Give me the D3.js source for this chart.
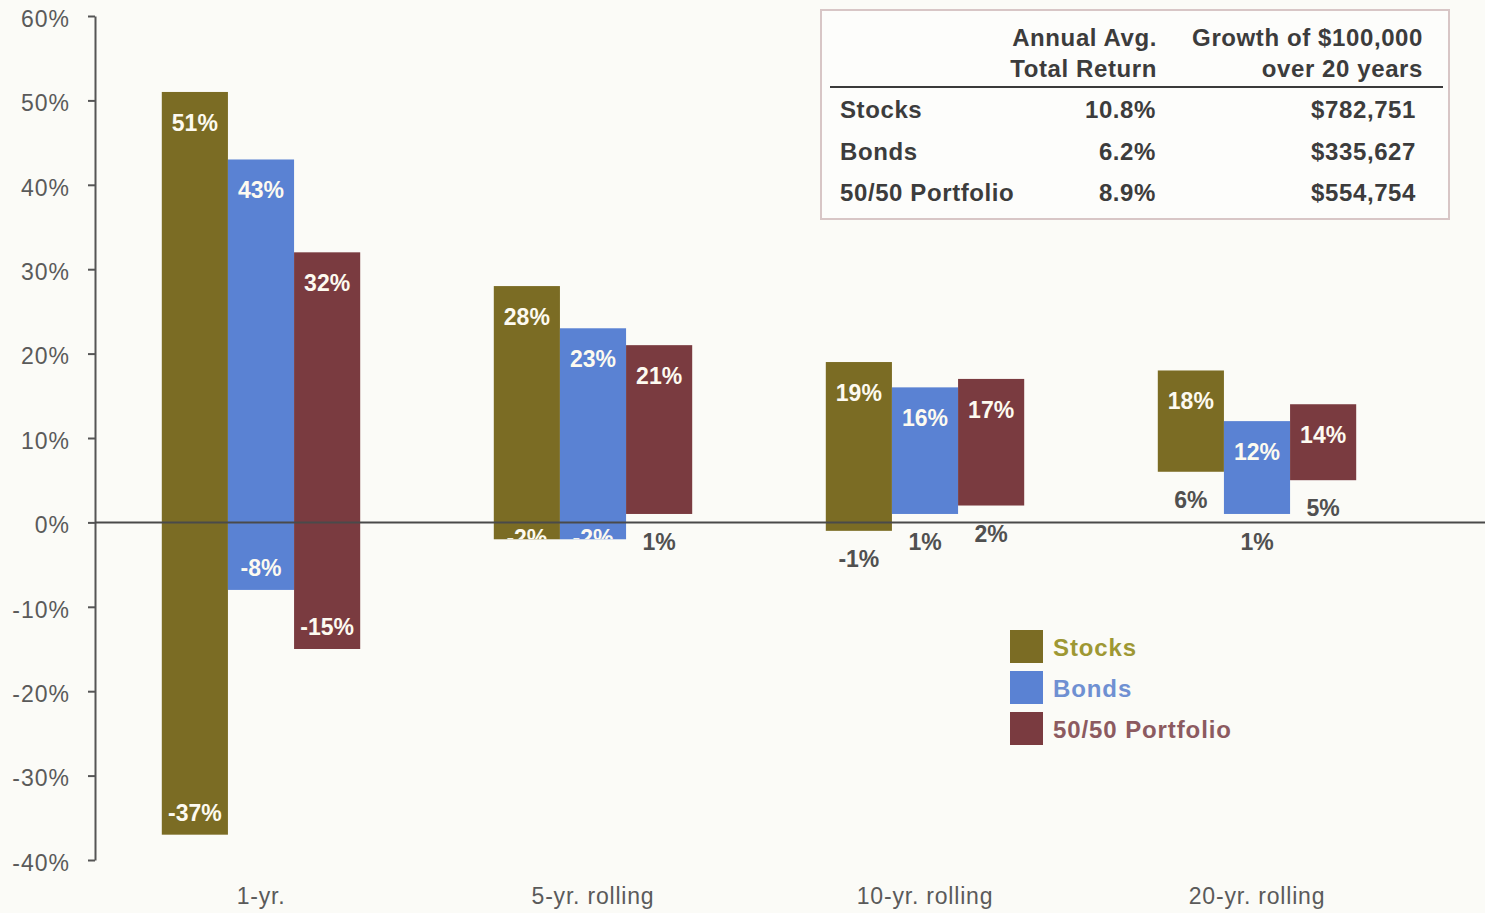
<!DOCTYPE html>
<html>
<head>
<meta charset="utf-8">
<script src="https://cdn.jsdelivr.net/npm/d3@7"></script>
<style>
  html, body { margin: 0; padding: 0; background: #fbfbf7; }
  svg { display: block; }
  text { font-family: "Liberation Sans", Arial, sans-serif; }
</style>
</head>
<body>
<svg id="chart" width="1485" height="913"></svg>
<script>
// Range of returns (high / low) by holding period
const categories = ["1-yr.", "5-yr. rolling", "10-yr. rolling", "20-yr. rolling"];
const seriesNames = ["Stocks", "Bonds", "50/50 Portfolio"];
const stocksHigh = [51, 28, 19, 18];
const stocksLow = [-37, -2, -1, 6];
const bondsHigh = [43, 23, 16, 12];
const bondsLow = [-8, -2, 1, 1];
const portfolioHigh = [32, 21, 17, 14];
const portfolioLow = [-15, 1, 2, 5];
const yTicks = [-40, -30, -20, -10, 0, 10, 20, 30, 40, 50, 60];

// Summary table
const tableHeader1 = ["Annual Avg.", "Growth of $100,000"];
const tableHeader2 = ["Total Return", "over 20 years"];
const tableNames = ["Stocks", "Bonds", "50/50 Portfolio"];
const tableAvgReturn = ["10.8%", "6.2%", "8.9%"];
const tableGrowth = ["$782,751", "$335,627", "$554,754"];

const barColors = ["#7b6c24", "#5a82d3", "#7a3b40"];
const legendTextColors = ["#9e9834", "#6f90d2", "#8c5a60"];

const highs = [stocksHigh, bondsHigh, portfolioHigh];
const lows = [stocksLow, bondsLow, portfolioLow];

const bars = [];
categories.forEach((c, i) => {
  seriesNames.forEach((s, j) => {
    bars.push({ cat: c, series: s, si: j, high: highs[j][i], low: lows[j][i] });
  });
});

const svg = d3.select("#chart");

const y = d3.scaleLinear().domain([-40, 60]).range([860, 16]);
const x = d3.scaleBand().domain(categories).range([95, 1423]).padding(0);
const xs = d3.scaleBand().domain(seriesNames).range([0, x.bandwidth()])
  .paddingInner(0).paddingOuter(1.01);

// Y axis
const yAxis = d3.axisLeft(y).tickValues(yTicks).tickSize(7).tickSizeOuter(0)
  .tickFormat(d => d + "%");
const gy = svg.append("g").attr("transform", "translate(95,0)").call(yAxis);
gy.select(".domain").attr("stroke", "#555").attr("stroke-width", 2);
gy.selectAll(".tick line").attr("stroke", "#555").attr("stroke-width", 2);
gy.selectAll(".tick text")
  .attr("x", -25).attr("dy", "0.45em")
  .attr("fill", "#5a5a5a").style("font-size", "23px").style("letter-spacing", "1px")
  .style("font-family", "'Liberation Sans', Arial, sans-serif");

// Category labels
svg.append("g").selectAll("text").data(categories).join("text")
  .attr("x", d => x(d) + x.bandwidth() / 2)
  .attr("y", 904)
  .attr("text-anchor", "middle")
  .attr("fill", "#5a5a5a")
  .style("font-size", "23px")
  .style("letter-spacing", "0.8px")
  .text(d => d);

// Floating bars
const defs = svg.append("defs");
const barX = d => x(d.cat) + xs(d.series);
const bw = xs.bandwidth();

bars.forEach((d, i) => {
  defs.append("clipPath").attr("id", "bar-clip-" + i)
    .append("rect")
    .attr("x", barX(d)).attr("y", y(d.high))
    .attr("width", bw).attr("height", y(d.low) - y(d.high));
});

svg.append("g").selectAll("rect").data(bars).join("rect")
  .attr("x", barX)
  .attr("y", d => y(d.high))
  .attr("width", bw)
  .attr("height", d => y(d.low) - y(d.high))
  .attr("fill", d => barColors[d.si]);

// Zero line
svg.append("line")
  .attr("x1", 95).attr("x2", 1485)
  .attr("y1", y(0)).attr("y2", y(0))
  .attr("stroke", "#4a4a4a").attr("stroke-width", 2);

// High labels, inside top of each bar
svg.append("g").selectAll("text").data(bars).join("text")
  .attr("x", d => barX(d) + bw / 2)
  .attr("y", d => y(d.high) + 39)
  .attr("text-anchor", "middle")
  .attr("fill", "#fdfaf0")
  .style("font-size", "23px").style("font-weight", "bold")
  .text(d => d.high + "%");

// Low labels: inside the base (kept below zero) for losses, under the bar otherwise
const lowG = svg.append("g");
bars.forEach((d, i) => {
  const inside = d.low < -1;
  const t = lowG.append("text")
    .attr("x", barX(d) + bw / 2)
    .attr("text-anchor", "middle")
    .style("font-size", "23px").style("font-weight", "bold")
    .text(d.low + "%");
  if (inside) {
    t.attr("y", Math.max(y(d.low) - 14, y(0) + 24))
      .attr("fill", "#fdfaf0")
      .attr("clip-path", "url(#bar-clip-" + i + ")");
  } else {
    t.attr("y", y(d.low) + 36).attr("fill", "#505050");
  }
});

// Legend
const legend = svg.append("g").attr("transform", "translate(1010,630)");
seriesNames.forEach((s, j) => {
  const g = legend.append("g").attr("transform", `translate(0,${j * 41})`);
  g.append("rect").attr("width", 33).attr("height", 33).attr("fill", barColors[j]);
  g.append("text").attr("x", 43).attr("y", 26)
    .attr("fill", legendTextColors[j])
    .style("font-size", "24px").style("font-weight", "bold")
    .style("letter-spacing", "0.9px")
    .text(s);
});

// Summary table
const tbl = svg.append("g");
tbl.append("rect")
  .attr("x", 821).attr("y", 10).attr("width", 628).attr("height", 209)
  .attr("fill", "#fdfdfb").attr("stroke", "#d8c6c6").attr("stroke-width", 2);
tbl.append("line").attr("x1", 830).attr("x2", 1443).attr("y1", 87).attr("y2", 87)
  .attr("stroke", "#3a3a3a").attr("stroke-width", 2);

const colRight = [1157, 1423];
const tStyle = sel => sel.attr("fill", "#3c3c3c")
  .style("font-size", "24px").style("font-weight", "bold").style("letter-spacing", "0.6px");

tableHeader1.forEach((h, k) => {
  tStyle(tbl.append("text").attr("x", colRight[k]).attr("y", 46).attr("text-anchor", "end").text(h));
});
tableHeader2.forEach((h, k) => {
  tStyle(tbl.append("text").attr("x", colRight[k]).attr("y", 77).attr("text-anchor", "end").text(h));
});
const rowY = [118, 160, 201];
tableNames.forEach((n, r) => {
  tStyle(tbl.append("text").attr("x", 840).attr("y", rowY[r]).text(n));
  tStyle(tbl.append("text").attr("x", 1156).attr("y", rowY[r]).attr("text-anchor", "end").text(tableAvgReturn[r]));
  tStyle(tbl.append("text").attr("x", 1416).attr("y", rowY[r]).attr("text-anchor", "end").text(tableGrowth[r]));
});
</script>
</body>
</html>
